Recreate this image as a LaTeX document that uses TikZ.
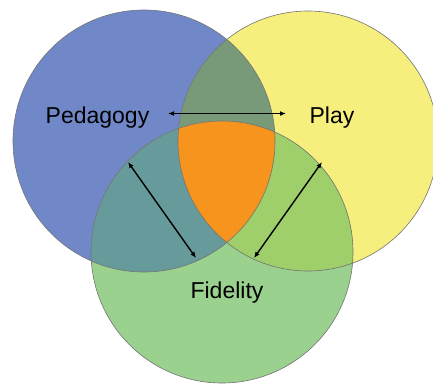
\documentclass[tikz,border=0pt]{standalone}
\usepackage{fontspec}
\setmainfont{Liberation Sans}
\usetikzlibrary{arrows.meta}
\definecolor{pedblue}{HTML}{7088C8}
\definecolor{playyellow}{HTML}{F6EF7D}
\definecolor{fidgreen}{HTML}{9BD18E}
\definecolor{pedplay}{HTML}{789A79}
\definecolor{pedfid}{HTML}{679A9A}
\definecolor{playfid}{HTML}{9ECF6A}
\definecolor{core}{HTML}{F7941D}
\begin{document}
\begin{tikzpicture}[x=1pt,y=-1pt,
ring/.style={draw=black!55,line width=0.6pt},
link/.style={{Latex[length=6pt,width=5pt]}-{Latex[length=6pt,width=5pt]},line width=1.4pt}]
\tikzstyle{every node}=[font=\fontsize{23}{27}\selectfont,anchor=base,inner sep=0pt]
\useasboundingbox (0,0) rectangle (433,386);
\def\Ped{(144,141) circle (131pt)}
\def\Pla{(308,141) circle (130pt)}
\def\Fid{(222,252) circle (131pt)}
\fill[pedblue] \Ped;
\fill[playyellow] \Pla;
\fill[fidgreen] \Fid;
\begin{scope}\clip \Ped; \fill[pedplay] \Pla; \fill[pedfid] \Fid; \end{scope}
\begin{scope}\clip \Pla; \fill[playfid] \Fid; \end{scope}
\begin{scope}\clip \Ped; \clip \Pla; \fill[core] \Fid; \end{scope}
\draw[ring] \Ped;
\draw[ring] \Pla;
\draw[ring] \Fid;
\node (Ped) at (97.5,123) {Pedagogy};
\node (Pla) at (332,123) {Play};
\node (Fid) at (227,298) {Fidelity};
\coordinate (PedR) at (168,113.5);
\coordinate (PlaL) at (286,113.5);
\coordinate (PedB) at (128,162);
\coordinate (FidL) at (196,258);
\coordinate (PlaB) at (322,162);
\coordinate (FidR) at (254,258);
\draw[link] (PedR) -- (PlaL);
\draw[link] (PedB) -- (FidL);
\draw[link] (PlaB) -- (FidR);
\end{tikzpicture}
\end{document}
